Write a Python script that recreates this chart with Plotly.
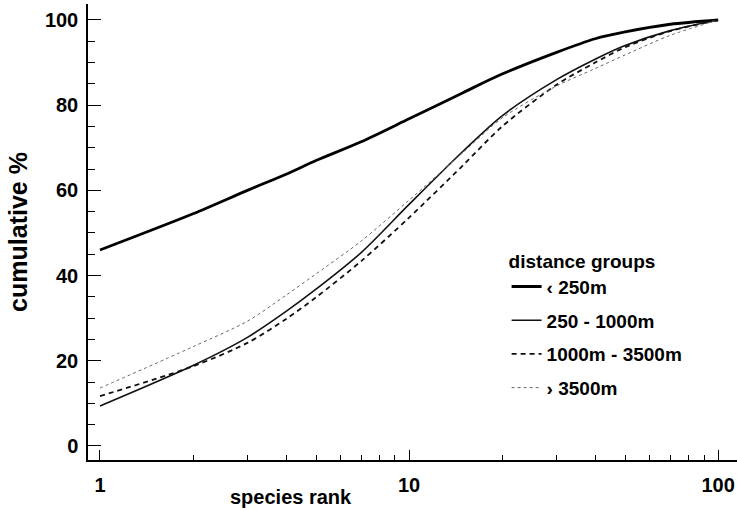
import plotly.graph_objects as go

# Species rank (log axis) and cumulative percentage for each distance group
rank = [1, 2, 3, 4, 5, 7, 10, 15, 20, 30, 40, 50, 70, 100]

cum_lt250 = [46.0, 54.5, 60.0, 63.8, 67.0, 71.4, 76.8, 83.0, 87.3, 92.4, 95.6, 97.2, 99.0, 100.0]
cum_250_1000 = [9.4, 18.9, 25.5, 31.6, 36.8, 45.4, 56.7, 69.3, 77.5, 86.0, 90.8, 94.0, 97.5, 100.0]
cum_1000_3500 = [11.7, 18.7, 24.2, 29.8, 34.9, 43.4, 53.6, 66.0, 75.0, 84.8, 90.0, 93.6, 97.4, 100.0]
cum_gt3500 = [13.6, 23.3, 29.3, 35.4, 40.4, 48.1, 57.7, 69.0, 77.0, 84.5, 88.6, 91.8, 96.4, 100.0]

names = ["\u2039 250m", "250 - 1000m", "1000m - 3500m", "\u203a 3500m"]
series = [cum_lt250, cum_250_1000, cum_1000_3500, cum_gt3500]
styles = [
    dict(color="#000000", width=2.8, dash="solid"),
    dict(color="#111111", width=1.6, dash="solid"),
    dict(color="#111111", width=1.8, dash="5px,4px"),
    dict(color="#666666", width=1.0, dash="dot"),
]

FONT = "Liberation Sans"

fig = go.Figure()
for i, (nm, ys, st) in enumerate(zip(names, series, styles)):
    fig.add_trace(go.Scatter(
        x=rank, y=ys, mode="lines", name=nm,
        line=dict(shape="spline", smoothing=0.8, **st),
        legendgroup=f"g{i}",
    ))

axis_common = dict(
    showline=True, linecolor="#000", linewidth=1.5,
    ticks="inside", tickcolor="#000", tickwidth=1.3,
    showgrid=False, zeroline=False,
    tickfont=dict(family=FONT, size=20, color="#000", weight="bold"),
)

fig.update_xaxes(
    type="log", range=[-0.0388, 2.061],
    tickvals=[1, 10, 100], ticktext=["1", "10", "100"], ticklen=10,
    ticklabelstandoff=6,
    minor=dict(ticks="inside", ticklen=5, tickwidth=1, tickcolor="#000",
               tickvals=[2, 3, 4, 5, 6, 7, 8, 9, 20, 30, 40, 50, 60, 70, 80, 90]),
    **axis_common,
)
fig.update_yaxes(
    range=[-3.29, 103.75], tickvals=[0, 20, 40, 60, 80, 100], ticklen=13,
    minor=dict(ticks="inside", ticklen=7, tickwidth=1, tickcolor="#000", dtick=5, tick0=0),
    ticklabelstandoff=4,
    title=dict(text="cumulative %", standoff=10,
               font=dict(family=FONT, size=25, color="#000", weight="bold")),
    **axis_common,
)

fig.add_annotation(
    text="species rank", xref="paper", yref="paper", x=0.313, y=-0.081,
    xanchor="center", yanchor="middle", showarrow=False,
    font=dict(family=FONT, size=20, color="#000", weight="bold"),
)

fig.update_layout(
    width=737, height=510,
    margin=dict(l=88, r=0, t=4, b=50),
    paper_bgcolor="#fff", plot_bgcolor="#fff",
    showlegend=True,
    legend=dict(
        title=dict(text="distance groups",
                   font=dict(family=FONT, size=19, color="#000", weight="bold")),
        font=dict(family=FONT, size=19, color="#000", weight="bold"),
        x=0.645, y=0.476, xanchor="left", yanchor="top",
        bgcolor="rgba(0,0,0,0)", tracegroupgap=6,
    ),
)

fig.write_html("out.html")
